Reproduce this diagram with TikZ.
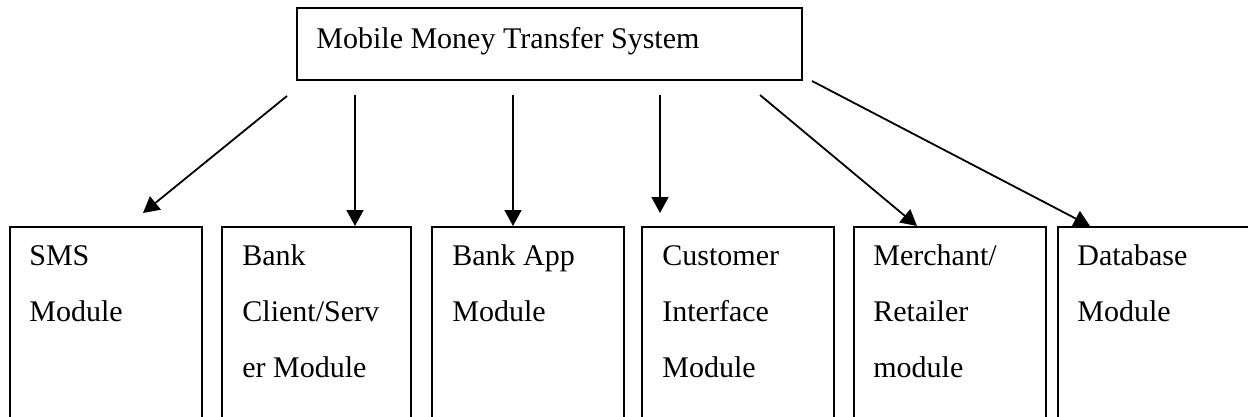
\documentclass[tikz,border=0pt]{standalone}
\usepackage{fontspec}
\setmainfont{Liberation Serif}
\usetikzlibrary{arrows.meta,calc}
\begin{document}
\begin{tikzpicture}[x=0.5pt,y=-0.5pt,
  box/.style={draw,line width=1pt,inner sep=0pt,anchor=north west},
  modbox/.style={box,minimum width=96pt,minimum height=107pt},
  lbl/.style={inner sep=0pt,anchor=north west,align=left,font=\fontsize{15}{28}\selectfont},
  arr/.style={line width=0.9pt,-{Triangle[length=8pt,width=8.5pt]}}]
\clip (0,0) rectangle (1248,417);

% system box
\node[box,minimum width=252.5pt,minimum height=36pt] (sys) at (296,7) {};
\node[lbl,anchor=base west] (systxt) at ($(sys.north west)+(20,42)$) {Mobile Money Transfer System};

% module boxes (open towards the bottom edge)
\node[modbox] (sms) at (9,226) {};
\node[modbox,minimum width=94.5pt] (bcs) at (221,226) {};
\node[modbox] (bapp) at (431,226) {};
\node[modbox] (cust) at (641,226) {};
\node[modbox] (merch) at (853,226) {};
\node[modbox,minimum width=102.5pt] (db) at (1057,226) {};

\node[lbl] (smstxt) at ($(sms.north west)+(20,0)$) {\strut SMS\\Module};
\node[lbl] (bcstxt) at ($(bcs.north west)+(21,0)$) {\strut Bank\\Client/Serv\\er Module};
\node[lbl] (bapptxt) at ($(bapp.north west)+(21,0)$) {\strut Bank App\\Module};
\node[lbl] (custtxt) at ($(cust.north west)+(21,0)$) {\strut Customer\\Interface\\Module};
\node[lbl] (merchtxt) at ($(merch.north west)+(20,0)$) {\strut Merchant/\\Retailer\\module};
\node[lbl] (dbtxt) at ($(db.north west)+(20,0)$) {\strut Database\\Module};

% arrow end points
\coordinate (s1) at ($(sys.south west)+(-9,15)$);
\coordinate (e1) at ($(sms.north west)+(134,-13)$);
\coordinate (s2) at ($(sys.south west)+(59,14)$);
\coordinate (e2) at ($(bcs.north west)+(134,0)$);
\coordinate (s3) at ($(sys.south west)+(217,14)$);
\coordinate (e3) at ($(bapp.north west)+(82,0)$);
\coordinate (s4) at ($(sys.south west)+(364,14)$);
\coordinate (e4) at ($(cust.north west)+(19,-13)$);
\coordinate (s5) at ($(sys.south east)+(-43,14)$);
\coordinate (e5) at ($(merch.north west)+(64,0)$);
\coordinate (s6) at ($(sys.south east)+(9,0)$);
\coordinate (e6) at ($(db.north west)+(33,0)$);

\draw[arr] (s1) -- (e1);
\draw[arr] (s2) -- (e2);
\draw[arr] (s3) -- (e3);
\draw[arr] (s4) -- (e4);
\draw[arr] (s5) -- (e5);
\draw[arr] (s6) -- (e6);
\end{tikzpicture}
\end{document}
